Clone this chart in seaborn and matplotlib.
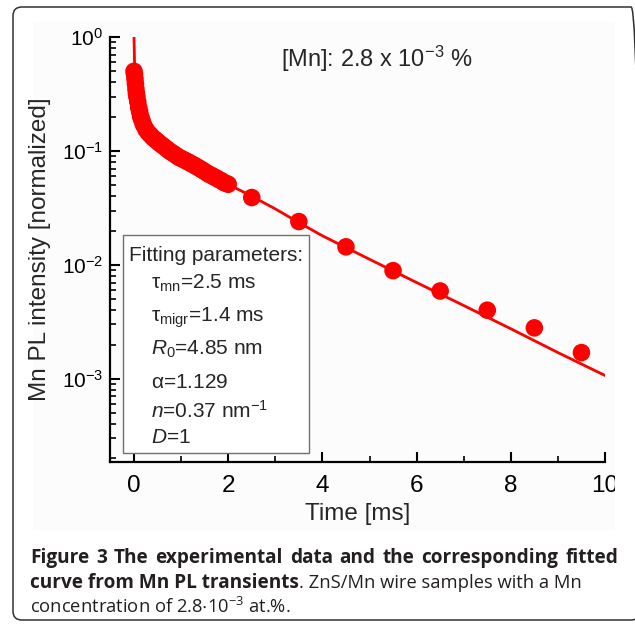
import matplotlib
matplotlib.use('Agg')
import matplotlib.pyplot as plt
from matplotlib.patches import FancyBboxPatch, Rectangle
from matplotlib.transforms import Bbox
import seaborn as sns
import pandas as pd
import numpy as np

W, H = 635, 627

# Données
t_pts = [0.00, 0.01, 0.02, 0.03, 0.04, 0.05, 0.06, 0.08, 0.10, 0.12, 0.14, 0.17,
         0.20, 0.25, 0.30, 0.35, 0.40, 0.45, 0.50, 0.55, 0.60, 0.65, 0.70, 0.75,
         0.80, 0.85, 0.90, 0.95, 1.00, 1.05, 1.10, 1.15, 1.20, 1.25, 1.30, 1.35,
         1.40, 1.45, 1.50, 1.55, 1.60, 1.65, 1.70, 1.75, 1.80, 1.85, 1.90, 1.95,
         2.00, 2.5, 3.5, 4.5, 5.5, 6.5, 7.5, 8.5, 9.5]
pl_pts = [0.50, 0.47, 0.43, 0.39, 0.35, 0.32, 0.30, 0.27, 0.24, 0.22, 0.20, 0.185,
          0.17, 0.155, 0.145, 0.138, 0.131, 0.126, 0.121, 0.116, 0.112, 0.108, 0.104, 0.100,
          0.097, 0.094, 0.091, 0.088, 0.086, 0.084, 0.082, 0.080, 0.078, 0.076, 0.074, 0.072,
          0.070, 0.068, 0.066, 0.064, 0.062, 0.061, 0.059, 0.058, 0.056, 0.055, 0.053, 0.052,
          0.051, 0.039, 0.024, 0.0144, 0.0089, 0.0059, 0.0040, 0.0028, 0.0017]

# Courbe ajustée
t_fit = [0.0, 0.01, 0.03, 0.06, 0.1, 0.15, 0.2, 0.3, 0.5, 0.75, 1.0, 1.5, 2.0,
         2.5, 3.0, 3.5, 4.0, 5.0, 6.0, 7.0, 8.0, 9.0, 10.0]
pl_fit = [1.0, 0.62, 0.45, 0.33, 0.25, 0.20, 0.175, 0.148, 0.122, 0.102, 0.088, 0.066, 0.051,
          0.040, 0.031, 0.0235, 0.018, 0.0112, 0.0070, 0.0044, 0.00275, 0.0017, 0.00107]

params = [r'$\tau_{\mathrm{mn}}$=2.5 ms',
          r'$\tau_{\mathrm{migr}}$=1.4 ms',
          r'$\mathit{R}_{0}$=4.85 nm',
          r'$\alpha$=1.129',
          r'$\mathit{n}$=0.37 nm$^{-1}$',
          r'$\mathit{D}$=1']

caption_l1 = 'Figure 3 The experimental data and the corresponding fitted'
caption_l2b = 'curve from Mn PL transients'
caption_l2 = '. ZnS/Mn wire samples with a Mn'
caption_l3 = r'concentration of 2.8$\cdot$10$^{-3}$ at.%.'

sns.set_style('ticks')
plt.rcParams['font.family'] = ['Liberation Sans', 'DejaVu Sans']
plt.rcParams['mathtext.fontset'] = 'custom'
plt.rcParams['mathtext.rm'] = 'Liberation Sans'
plt.rcParams['mathtext.it'] = 'Liberation Sans:italic'
plt.rcParams['mathtext.default'] = 'regular'


def fx(x):
    return x / W


def fy(y):
    return 1 - y / H


fig = plt.figure(figsize=(W / 100, H / 100), dpi=100)
fig.patch.set_facecolor('white')

# cadre arrondi + fond de l'image du graphique
fig.add_artist(FancyBboxPatch((fx(13), fy(620)), fx(640) - fx(13), fy(7) - fy(620),
                              boxstyle='round,pad=0,rounding_size=0.014',
                              transform=fig.transFigure, fc='none', ec='#303030', lw=1.1))
fig.add_artist(Rectangle((fx(33), fy(530)), fx(615) - fx(33), fy(22) - fy(530),
                         transform=fig.transFigure, fc='#fcfcfc', ec='none', zorder=0))

ax = fig.add_axes([fx(110), fy(462), fx(605) - fx(110), fy(37) - fy(462)])
ax.set_facecolor('none')

df_pts = pd.DataFrame({'t': t_pts, 'pl': pl_pts})
df_fit = pd.DataFrame({'t': t_fit, 'pl': pl_fit})
sns.lineplot(data=df_fit, x='t', y='pl', ax=ax, color='#ff0000', lw=2.0,
             sort=False, estimator=None, zorder=2)
sns.scatterplot(data=df_pts, x='t', y='pl', ax=ax, color='#ff0000', s=160,
                edgecolor='none', linewidth=0, zorder=3)

ax.set_yscale('log')
ax.set_xlim(-0.51, 10)
ax.set_ylim(10 ** -3.73, 1.0)
ax.set_xticks([0, 2, 4, 6, 8, 10])
ax.set_xticks([1, 3, 5, 7, 9], minor=True)
ax.set_yticks([1e-3, 1e-2, 1e-1, 1e0])
ax.set_yticklabels([r'10$^{-3}$', r'10$^{-2}$', r'10$^{-1}$', r'10$^{0}$'])
ax.yaxis.set_minor_locator(matplotlib.ticker.LogLocator(base=10, subs=np.arange(2, 10)))
ax.yaxis.set_minor_formatter(matplotlib.ticker.NullFormatter())

sns.despine(ax=ax)
for s in ['left', 'bottom']:
    ax.spines[s].set_linewidth(1.6)
    ax.spines[s].set_color('black')
ax.tick_params(which='major', direction='in', length=7, width=1.5, colors='black')
ax.tick_params(which='minor', direction='in', length=4, width=1.2, colors='black')
ax.tick_params(axis='x', labelsize=17.5, pad=9)
ax.tick_params(axis='y', labelsize=15, pad=5)

ax.set_xlabel('Time [ms]', fontsize=17.5, labelpad=5)
ax.set_ylabel('Mn PL intensity [normalized]', fontsize=17.5, labelpad=8)

fig.text(fx(281), fy(67), r'[Mn]: 2.8 x 10$^{-3}$ %', fontsize=17, va='baseline')

# boîte des paramètres
fig.add_artist(Rectangle((fx(123), fy(453)), fx(309) - fx(123), fy(235) - fy(453),
                         transform=fig.transFigure, fc='white', ec='#707070', lw=1.0, zorder=5))
fig.text(fx(129), fy(261), 'Fitting parameters:', fontsize=15, va='baseline', zorder=6)
ys = [289, 322, 355, 388, 418, 443]
for txt, y in zip(params, ys):
    fig.text(fx(151), fy(y), txt, fontsize=15, va='baseline', zorder=6)

fig.canvas.draw()
clip = Bbox.from_extents(33, H - 530, 615, H - 22)
for lab in ax.get_xticklabels():
    lab.set_clip_box(clip)
    lab.set_clip_on(True)

# légende sous la figure
cap_fs = 13.2
cap_fs_b = 13.7
cap_font = ['Open Sans', 'DejaVu Sans']
cap_col = '#231f20'
renderer = fig.canvas.get_renderer()

# ligne 1 justifiée entre x=30 et x=618
words = caption_l1.split(' ')
arts = [fig.text(0, fy(563), w, fontsize=cap_fs_b, fontweight='bold', family=cap_font,
                 va='baseline', color=cap_col) for w in words]
widths = [a.get_window_extent(renderer).width for a in arts]
gap = (618 - 30 - sum(widths)) / (len(words) - 1)
xpos = 30
for a, wd in zip(arts, widths):
    a.set_x(fx(xpos))
    xpos += wd + gap

b = fig.text(fx(30), fy(588), caption_l2b, fontsize=cap_fs_b, fontweight='bold',
             family=cap_font, va='baseline', color=cap_col)
x_end = b.get_window_extent(renderer).x1
fig.text(x_end / W, fy(588), caption_l2, fontsize=cap_fs, family=cap_font,
         va='baseline', color=cap_col)
fig.text(fx(30), fy(613), caption_l3, fontsize=cap_fs, family=cap_font,
         va='baseline', color=cap_col)

fig.savefig('out.png', dpi=100)
